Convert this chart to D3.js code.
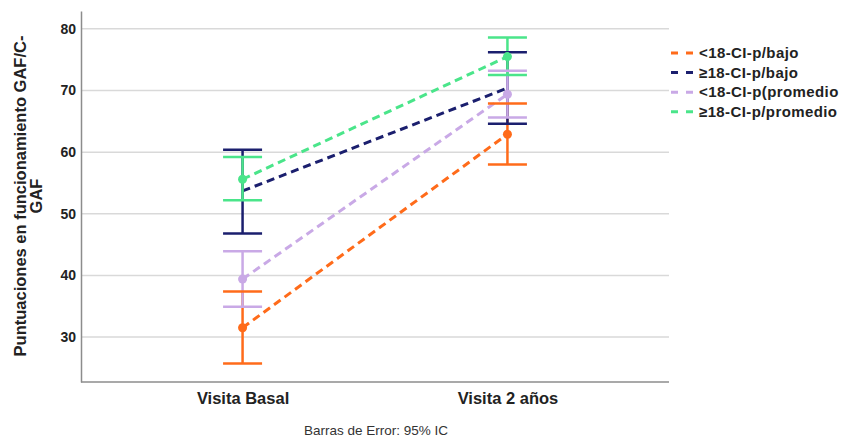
<!DOCTYPE html>
<html><head><meta charset="utf-8">
<script src="https://cdn.jsdelivr.net/npm/d3@7"></script>
<style>body{margin:0;background:#fff}svg{display:block}</style>
</head><body>
<script>
const categories = ["Visita Basal", "Visita 2 años"];
const seriesNames = ["<18-CI-p/bajo", "≥18-CI-p/bajo", "<18-CI-p(promedio", "≥18-CI-p/promedio"];
const seriesColors = ["#ff6b1a", "#1b1f6e", "#c9a9e6", "#4ae58a"];
const meanValues = [[31.5, 62.9], [53.7, 70.4], [39.4, 69.4], [55.6, 75.5]];
const lowerCI = [[25.7, 58.0], [46.8, 64.6], [34.9, 65.6], [52.2, 72.5]];
const upperCI = [[37.4, 67.9], [60.4, 76.2], [43.9, 73.2], [59.2, 78.6]];
const showMarker = [true, false, true, true];
const yTicks = [30, 40, 50, 60, 70, 80];

const W = 841, H = 439;
const svg = d3.select("body").append("svg").attr("width", W).attr("height", H);
const L = 81, R = 669, T = 11, B = 382;
const x = d3.scalePoint().domain(categories).range([L, R]).padding(0.61);
const y = d3.scaleLinear().domain([22.7, 82.9]).range([B, T]);

// gridlines
svg.append("g").selectAll("line").data(yTicks).join("line")
  .attr("x1", L).attr("x2", R).attr("y1", d => y(d)).attr("y2", d => y(d))
  .attr("stroke", "#d9d9d9").attr("stroke-width", 1.5);

// y axis
const yAxis = d3.axisLeft(y).tickValues(yTicks).tickSize(0).tickPadding(5);
const gy = svg.append("g").attr("transform", `translate(${L},0)`).call(yAxis);
gy.select(".domain").attr("stroke", "#8c8c8c").attr("stroke-width", 1.5);
gy.selectAll("text").attr("x", -5).attr("text-anchor", "end")
  .attr("font-family", "'Liberation Sans Narrow', 'Liberation Sans', Arial, sans-serif")
  .attr("font-weight", "bold").attr("font-size", 14).attr("fill", "#222");

// x axis
const xAxis = d3.axisBottom(x).tickSize(0).tickPadding(10);
const gx = svg.append("g").attr("transform", `translate(0,${B})`).call(xAxis);
gx.select(".domain").attr("stroke", "#8c8c8c").attr("stroke-width", 1.5).attr("d", `M${L},0H${R}`);
gx.selectAll("text").attr("font-family", "'Liberation Sans', Arial, sans-serif")
  .attr("font-weight", "bold").attr("font-size", 16.5).attr("fill", "#222");

// y axis title
const yt = svg.append("text").attr("transform", `translate(26,196) rotate(-90)`)
  .attr("text-anchor", "middle").attr("font-family", "'Liberation Sans', Arial, sans-serif")
  .attr("font-weight", "bold").attr("font-size", 16.5).attr("fill", "#222");
yt.append("tspan").attr("x", 0).attr("dy", 0).text("Puntuaciones en funcionamiento GAF/C-");
yt.append("tspan").attr("x", 0).attr("dy", 16).text("GAF");

// footnote
svg.append("text").attr("x", 376).attr("y", 435).attr("text-anchor", "middle")
  .attr("font-family", "'Liberation Sans', Arial, sans-serif").attr("font-size", 13.5).attr("fill", "#333")
  .text("Barras de Error: 95% IC");

const capW = 39;
const line = d3.line().x((d, i) => x(categories[i])).y(d => y(d));

// dashed mean lines
seriesNames.forEach((s, si) => {
  svg.append("path").datum(meanValues[si]).attr("d", line)
    .attr("fill", "none").attr("stroke", seriesColors[si]).attr("stroke-width", 3)
    .attr("stroke-dasharray", "8,5");
});

// error bar stems
seriesNames.forEach((s, si) => {
  categories.forEach((c, ci) => {
    const cx = x(c);
    svg.append("line").attr("x1", cx).attr("x2", cx)
      .attr("y1", y(lowerCI[si][ci])).attr("y2", y(upperCI[si][ci]))
      .attr("stroke", seriesColors[si]).attr("stroke-width", 2.5);
  });
});
// caps
seriesNames.forEach((s, si) => {
  categories.forEach((c, ci) => {
    const cx = x(c);
    [lowerCI[si][ci], upperCI[si][ci]].forEach(v => {
      svg.append("line").attr("x1", cx - capW / 2).attr("x2", cx + capW / 2)
        .attr("y1", y(v)).attr("y2", y(v))
        .attr("stroke", seriesColors[si]).attr("stroke-width", 2.5);
    });
  });
});
// markers
seriesNames.forEach((s, si) => {
  if (!showMarker[si]) return;
  categories.forEach((c, ci) => {
    svg.append("circle").attr("cx", x(c)).attr("cy", y(meanValues[si][ci])).attr("r", 4.5)
      .attr("fill", seriesColors[si]);
  });
});

// legend
const lg = svg.append("g").attr("transform", "translate(671,53)");
seriesNames.forEach((s, si) => {
  const row = lg.append("g").attr("transform", `translate(0,${si * 19.6})`);
  row.append("line").attr("x1", 0).attr("x2", 22).attr("y1", 0).attr("y2", 0)
    .attr("stroke", seriesColors[si]).attr("stroke-width", 3).attr("stroke-dasharray", "7,8");
  row.append("text").attr("x", 28).attr("y", 0).attr("dy", "0.35em")
    .attr("font-family", "'Liberation Sans', Arial, sans-serif").attr("font-weight", "bold")
    .attr("font-size", 15).attr("letter-spacing", 0.4).attr("fill", "#222").text(s);
});
</script>
</body></html>
